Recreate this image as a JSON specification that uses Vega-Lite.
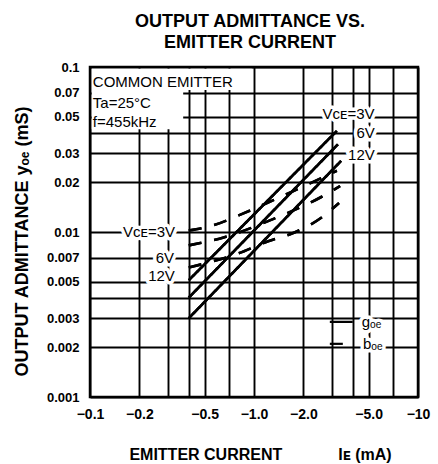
{
  "$schema": "https://vega.github.io/schema/vega-lite/v6.json",
  "width": 328,
  "height": 330,
  "autosize": {"type": "none"},
  "padding": {"left": 90, "top": 67, "right": 20, "bottom": 67},
  "background": "white",
  "title": {
    "text": ["OUTPUT ADMITTANCE VS.", "EMITTER CURRENT"],
    "font": "Liberation Sans",
    "fontSize": 18,
    "fontWeight": "bold",
    "lineHeight": 21.5,
    "color": "black",
    "anchor": "middle",
    "frame": "group",
    "baseline": "bottom",
    "dx": -4,
    "dy": 22,
    "offset": 13
  },
  "config": {
    "view": {"stroke": "black", "strokeWidth": 2.5},
    "font": "Liberation Sans",
    "axis": {
      "grid": true,
      "gridColor": "black",
      "gridOpacity": 1,
      "gridWidth": 1.9,
      "ticks": false,
      "tickSize": 0,
      "domain": false,
      "labelColor": "black",
      "labelFont": "Liberation Sans",
      "labelFontWeight": "bold",
      "titleColor": "black",
      "titleFont": "Liberation Sans",
      "titleFontWeight": "bold",
      "labelOverlap": false,
      "labelFlush": false,
      "labelBound": false
    }
  },
  "datasets": {
    "box": [
      {"ie": 0.1025, "ie2": 0.37, "y": 0.042, "y2": 0.0975},
      {"ie": 0.37, "ie2": 0.97, "y": 0.0725, "y2": 0.0975}
    ],
    "curves": [
      {"curve": "goe 3V", "param": "goe", "ie": 0.4, "y": 0.0051},
      {"curve": "goe 3V", "param": "goe", "ie": 3.2, "y": 0.041},
      {"curve": "goe 6V", "param": "goe", "ie": 0.4, "y": 0.004},
      {"curve": "goe 6V", "param": "goe", "ie": 3.25, "y": 0.034},
      {"curve": "goe 12V", "param": "goe", "ie": 0.4, "y": 0.003},
      {"curve": "goe 12V", "param": "goe", "ie": 3.4, "y": 0.027},
      {"curve": "boe 3V", "param": "boe", "ie": 0.4, "y": 0.0102},
      {"curve": "boe 3V", "param": "boe", "ie": 0.57, "y": 0.011},
      {"curve": "boe 3V", "param": "boe", "ie": 0.82, "y": 0.0127},
      {"curve": "boe 3V", "param": "boe", "ie": 1.55, "y": 0.0168},
      {"curve": "boe 3V", "param": "boe", "ie": 3.2, "y": 0.0235},
      {"curve": "boe 6V", "param": "boe", "ie": 0.4, "y": 0.0083},
      {"curve": "boe 6V", "param": "boe", "ie": 0.66, "y": 0.0093},
      {"curve": "boe 6V", "param": "boe", "ie": 1.26, "y": 0.0118},
      {"curve": "boe 6V", "param": "boe", "ie": 2.57, "y": 0.0163},
      {"curve": "boe 6V", "param": "boe", "ie": 3.35, "y": 0.019},
      {"curve": "boe 12V", "param": "boe", "ie": 0.4, "y": 0.0061},
      {"curve": "boe 12V", "param": "boe", "ie": 0.8, "y": 0.0074},
      {"curve": "boe 12V", "param": "boe", "ie": 1.22, "y": 0.0088},
      {"curve": "boe 12V", "param": "boe", "ie": 1.66, "y": 0.0097},
      {"curve": "boe 12V", "param": "boe", "ie": 2.57, "y": 0.0122},
      {"curve": "boe 12V", "param": "boe", "ie": 3.3, "y": 0.015}
    ],
    "samples": [
      {"param": "goe", "ie": 2.9, "ie2": 4.0, "y": 0.00285},
      {"param": "boe", "ie": 2.9, "ie2": 4.0, "y": 0.0021}
    ],
    "labels": [
      {"text": "Vᴄᴇ=3V", "ie": 0.229, "y": 0.01},
      {"text": "6V", "ie": 0.286, "y": 0.007},
      {"text": "12V", "ie": 0.273, "y": 0.0054},
      {"text": "Vᴄᴇ=3V", "ie": 3.77, "y": 0.052},
      {"text": "6V", "ie": 4.79, "y": 0.04},
      {"text": "12V", "ie": 4.52, "y": 0.0293},
      {"text": "gₒₑ", "ie": 5.2, "y": 0.00285},
      {"text": "bₒₑ", "ie": 5.3, "y": 0.0021}
    ],
    "conditions": [
      {"text": "COMMON EMITTER", "ie": 0.104, "y": 0.0811},
      {"text": "Ta=25°C", "ie": 0.104, "y": 0.0605},
      {"text": "f=455kHz", "ie": 0.104, "y": 0.0464}
    ]
  },
  "layer": [
    {
      "data": {"name": "curves"},
      "mark": {"type": "line", "color": "black", "strokeWidth": 2.6, "interpolate": "monotone"},
      "encoding": {
        "x": {
          "field": "ie",
          "type": "quantitative",
          "scale": {"type": "log", "domain": [0.1, 10], "nice": false},
          "axis": {
            "values": [0.1, 0.2, 0.3, 0.4, 0.5, 0.7, 1, 2, 3, 4, 5, 7, 10],
            "labelExpr": "indexof([0.1, 0.2, 0.5, 1, 2, 5, 10], datum.value) >= 0 ? (datum.value == 10 ? '−10' : '−' + format(datum.value, '.1f')) : ''",
            "labelFontSize": 14,
            "labelPadding": 10,
            "title": "EMITTER CURRENT\u2003\u2003\u2003\u2002Iᴇ (mA)",
            "titleFontSize": 16,
            "titleX": 170,
            "titleY": 57,
            "titleAlign": "center",
            "titleBaseline": "middle"
          }
        },
        "y": {
          "field": "y",
          "type": "quantitative",
          "scale": {"type": "log", "domain": [0.001, 0.1], "nice": false},
          "axis": {
            "values": [0.001, 0.002, 0.003, 0.004, 0.005, 0.007, 0.01, 0.02, 0.03, 0.04, 0.05, 0.07, 0.1],
            "labelExpr": "datum.value == 0.004 || datum.value == 0.04 ? '' : format(datum.value, '~g')",
            "labelFontSize": 13,
            "labelPadding": 11,
            "title": "OUTPUT ADMITTANCE  yₒₑ (mS)",
            "titleFontSize": 18,
            "titleX": -68,
            "titleY": 174,
            "titleAngle": -90,
            "titleAlign": "center",
            "titleBaseline": "middle"
          }
        },
        "detail": {"field": "curve"},
        "strokeDash": {
          "field": "param",
          "type": "nominal",
          "scale": {"domain": ["goe", "boe"], "range": [[1, 0], [13, 13]]},
          "legend": null
        }
      }
    },
    {
      "data": {"name": "box"},
      "mark": {"type": "rect", "color": "white"},
      "encoding": {
        "x": {"field": "ie", "type": "quantitative"},
        "x2": {"field": "ie2"},
        "y": {"field": "y", "type": "quantitative"},
        "y2": {"field": "y2"}
      }
    },
    {
      "data": {"name": "labels"},
      "mark": {"type": "text", "fontSize": 15, "align": "center", "baseline": "middle", "stroke": "white", "strokeWidth": 7, "strokeJoin": "round", "fill": "white"},
      "encoding": {
        "x": {"field": "ie", "type": "quantitative"},
        "y": {"field": "y", "type": "quantitative"},
        "text": {"field": "text"}
      }
    },
    {
      "data": {"name": "labels"},
      "mark": {"type": "text", "fontSize": 15, "align": "center", "baseline": "middle", "color": "black"},
      "encoding": {
        "x": {"field": "ie", "type": "quantitative"},
        "y": {"field": "y", "type": "quantitative"},
        "text": {"field": "text"}
      }
    },
    {
      "data": {"name": "conditions"},
      "mark": {"type": "text", "fontSize": 15, "align": "left", "baseline": "middle", "color": "black"},
      "encoding": {
        "x": {"field": "ie", "type": "quantitative"},
        "y": {"field": "y", "type": "quantitative"},
        "text": {"field": "text"}
      }
    },
    {
      "data": {"name": "curves"},
      "mark": {"type": "line", "color": "black", "strokeWidth": 2.6, "interpolate": "monotone"},
      "encoding": {
        "x": {"field": "ie", "type": "quantitative"},
        "y": {"field": "y", "type": "quantitative"},
        "detail": {"field": "curve"},
        "strokeDash": {
          "field": "param",
          "type": "nominal",
          "scale": {"domain": ["goe", "boe"], "range": [[1, 0], [13, 13]]},
          "legend": null
        }
      }
    },
    {
      "data": {"name": "samples"},
      "mark": {"type": "rule", "color": "black", "strokeWidth": 2.2},
      "encoding": {
        "x": {"field": "ie", "type": "quantitative"},
        "x2": {"field": "ie2"},
        "y": {"field": "y", "type": "quantitative"},
        "strokeDash": {
          "field": "param",
          "type": "nominal",
          "scale": {"domain": ["goe", "boe"], "range": [[1, 0], [6, 5]]},
          "legend": null
        }
      }
    }
  ]
}
